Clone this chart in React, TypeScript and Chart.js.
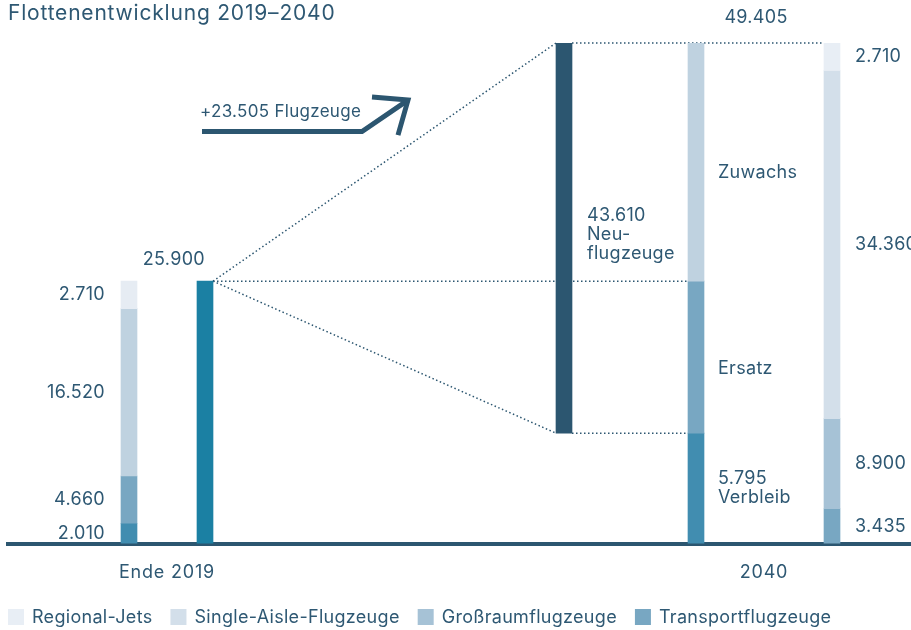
import React, { useEffect, useRef } from "react";
import { Chart, registerables } from "chart.js";

Chart.register(...registerables);

// ---------------- data ----------------
const TITLE = "Flottenentwicklung 2019–2040";
const GROUP_LABELS = ["Ende 2019", "2040"];
// order: top of the stack -> bottom of the stack
const FLEET_TYPES = ["Regional-Jets", "Single-Aisle-Flugzeuge", "Großraumflugzeuge", "Transportflugzeuge"];
const FLEET_2019 = [2710, 16520, 4660, 2010];
const FLEET_2040 = [2710, 34360, 8900, 3435];
const TOTAL_2019 = 25900;
const TOTAL_2040 = 49405;
const NEW_AIRCRAFT = 43610;
const GROWTH = 23505;
const REMAINING = 5795;
// the graphic draws the "Verbleib" part taller than to scale
const REMAINING_AS_DRAWN = 10900;
const FLOW_LABELS = ["Zuwachs", "Ersatz", "Verbleib"];
const NEW_LABEL = ["Neu-", "flugzeuge"];
const ARROW_TEXT = "Flugzeuge";

// ---------------- layout / style ----------------
const FONT = "Inter";
const SPACING = "0.3px";
const TITLE_SPACING = "0.8px";
const FS = 18;
const INK = "#2e5873";
const DARK = "#2c5670";
const TOTAL_COLOR = "#1b80a3";
const COLORS_2019 = ["#e6ecf3", "#bfd2e0", "#78a7c2", "#418db0"];
const COLORS_2040 = ["#e8eef5", "#d3dfea", "#a6c2d6", "#78a7c2"];
const FLOW_COLORS = ["#bfd2e0", "#78a7c2", "#418db0"];
const X_MAX = 90.3;
const X_2019_SPLIT = 12.1;
const X_2019_TOTAL = 19.7;
const X_NEW = 55.6;
const X_2040_FLOW = 68.8;
const X_2040_SPLIT = 82.4;
const GROUP_POS = [(X_2019_SPLIT + X_2019_TOTAL) / 2, (X_2040_FLOW + X_2040_SPLIT) / 2];
// arrow path in chart units (x units, y fleet-scale units)
const ARROW_SHAFT = [[19.4, 40660], [35.4, 40660], [40.0, 43770]];
const ARROW_HEAD = [[36.4, 44070], [40.0, 43770], [39.0, 40310]];

const fmt = (n: number) => String(n).replace(/\B(?=(\d{3})+(?!\d))/g, ".");

function stackRanges(vals: number[]): [number, number][] {
  const out: [number, number][] = new Array(vals.length);
  let acc = 0;
  for (let i = vals.length - 1; i >= 0; i--) {
    out[i] = [acc, acc + vals[i]];
    acc += vals[i];
  }
  return out;
}

export default function App() {
  const ref = useRef<HTMLCanvasElement | null>(null);

  useEffect(() => {
    const canvas = ref.current;
    if (!canvas) return;

    const r2019 = stackRanges(FLEET_2019);
    const r2040 = stackRanges(FLEET_2040);
    const flowRanges: [number, number][] = [
      [TOTAL_2019, TOTAL_2040],
      [REMAINING_AS_DRAWN, TOTAL_2019],
      [0, REMAINING_AS_DRAWN],
    ];

    const datasets: any[] = [];
    FLEET_TYPES.forEach((t, i) => {
      datasets.push({ label: t + " 2019", role: "s19", idx: i, data: [{ x: X_2019_SPLIT, y: r2019[i] }], backgroundColor: COLORS_2019[i] });
    });
    FLEET_TYPES.forEach((t, i) => {
      datasets.push({ label: t, role: "s40", idx: i, data: [{ x: X_2040_SPLIT, y: r2040[i] }], backgroundColor: COLORS_2040[i] });
    });
    datasets.push({ label: "Gesamt 2019", role: "total", data: [{ x: X_2019_TOTAL, y: [0, TOTAL_2019] }], backgroundColor: TOTAL_COLOR });
    datasets.push({ label: "Neuflugzeuge", role: "new", data: [{ x: X_NEW, y: [REMAINING_AS_DRAWN, TOTAL_2040] }], backgroundColor: DARK });
    FLOW_LABELS.forEach((t, i) => {
      datasets.push({ label: t, role: "flow", idx: i, data: [{ x: X_2040_FLOW, y: flowRanges[i] }], backgroundColor: FLOW_COLORS[i] });
    });

    const find = (chart: any, role: string, idx?: number) => {
      const di = chart.data.datasets.findIndex((d: any) => d.role === role && (idx === undefined || d.idx === idx));
      const el = chart.getDatasetMeta(di).data[0] as any;
      return el.getProps(["x", "y", "base", "width"], true);
    };

    const line = (ctx: CanvasRenderingContext2D, x1: number, y1: number, x2: number, y2: number) => {
      ctx.beginPath();
      ctx.moveTo(x1, y1);
      ctx.lineTo(x2, y2);
      ctx.stroke();
    };

    const decor = {
      id: "decor",
      beforeDraw(chart: any) {
        (chart.ctx as any).letterSpacing = TITLE_SPACING;
      },
      beforeDatasetsDraw(chart: any) {
        const ctx = chart.ctx as CanvasRenderingContext2D;
        (ctx as any).letterSpacing = SPACING;
        const tot = find(chart, "total");
        const nw = find(chart, "new");
        const zu = find(chart, "flow", 0);
        const er = find(chart, "flow", 1);
        const top = find(chart, "s40", 0);
        const h = tot.width / 2;
        ctx.save();
        ctx.strokeStyle = DARK;
        ctx.lineWidth = 1.5;
        ctx.setLineDash([1.5, 2.5]);
        line(ctx, tot.x + h, tot.y, nw.x - h, nw.y);
        line(ctx, tot.x + h, tot.y, nw.x - h, nw.base);
        line(ctx, tot.x + h, tot.y, zu.x - h, zu.base);
        line(ctx, nw.x + h, nw.y, top.x - h, nw.y);
        line(ctx, nw.x + h, nw.base, er.x - h, er.base);
        ctx.restore();
      },
      afterDraw(chart: any) {
        const ctx = chart.ctx as CanvasRenderingContext2D;
        const xs = chart.scales.x;
        const ys = chart.scales.y;
        ctx.save();
        (ctx as any).letterSpacing = SPACING;
        ctx.font = `${FS}px ${FONT}`;
        ctx.fillStyle = INK;
        ctx.textBaseline = "middle";

        // 2019 split labels
        ctx.textAlign = "right";
        FLEET_TYPES.forEach((_t, i) => {
          const b = find(chart, "s19", i);
          ctx.fillText(fmt(FLEET_2019[i]), b.x - b.width / 2 - 16, (b.y + b.base) / 2);
        });
        // 2040 split labels
        ctx.textAlign = "left";
        FLEET_TYPES.forEach((_t, i) => {
          const b = find(chart, "s40", i);
          ctx.fillText(fmt(FLEET_2040[i]), b.x + b.width / 2 + 15, (b.y + b.base) / 2);
        });
        // total 2019
        const tot = find(chart, "total");
        ctx.textAlign = "right";
        ctx.fillText(fmt(TOTAL_2019), tot.x, tot.y - 22);
        // total 2040
        const nw = find(chart, "new");
        const zu = find(chart, "flow", 0);
        const sp = find(chart, "s40", 0);
        ctx.textAlign = "center";
        ctx.fillText(fmt(TOTAL_2040), (zu.x + sp.x) / 2 - 8, nw.y - 25);
        // new aircraft
        ctx.textAlign = "left";
        const nmid = (nw.y + nw.base) / 2 - 3;
        const nLines = [fmt(NEW_AIRCRAFT), ...NEW_LABEL];
        nLines.forEach((s, i) => ctx.fillText(s, nw.x + nw.width / 2 + 15, nmid + (i - 1) * 19));
        // flow labels
        [0, 1].forEach((i) => {
          const b = find(chart, "flow", i);
          ctx.fillText(FLOW_LABELS[i], b.x + b.width / 2 + 14, (b.y + b.base) / 2 + 11);
        });
        const vb = find(chart, "flow", 2);
        const vmid = (vb.y + vb.base) / 2;
        ctx.fillText(fmt(REMAINING), vb.x + vb.width / 2 + 14, vmid - 9.5);
        ctx.fillText(FLOW_LABELS[2], vb.x + vb.width / 2 + 14, vmid + 9.5);

        // arrow
        const P = (p: number[]) => [xs.getPixelForValue(p[0]), ys.getPixelForValue(p[1])];
        ctx.strokeStyle = DARK;
        ctx.lineWidth = 5;
        ctx.lineJoin = "miter";
        ctx.lineCap = "butt";
        [ARROW_SHAFT, ARROW_HEAD].forEach((path) => {
          ctx.beginPath();
          path.forEach((p, i) => {
            const [px, py] = P(p);
            if (i === 0) ctx.moveTo(px, py);
            else ctx.lineTo(px, py);
          });
          ctx.stroke();
        });
        const [ax, ay] = P(ARROW_SHAFT[0]);
        ctx.font = `17px ${FONT}`;
        ctx.fillText("+" + fmt(GROWTH) + " " + ARROW_TEXT, ax - 2, ay - 20);
        ctx.font = `${FS}px ${FONT}`;

        // legend
        let lx = chart.chartArea.left;
        const ly = 617.5;
        chart.data.datasets.forEach((d: any) => {
          if (d.role !== "s40") return;
          ctx.fillStyle = d.backgroundColor;
          ctx.fillRect(lx, ly - 8.5, 16, 16);
          ctx.fillStyle = INK;
          ctx.textAlign = "left";
          ctx.fillText(d.label, lx + 24, ly);
          lx += 24 + ctx.measureText(d.label).width + 18;
        });
        ctx.restore();
      },
    };

    const chart = new Chart(canvas, {
      type: "bar",
      data: { datasets },
      options: {
        responsive: false,
        animation: false,
        devicePixelRatio: 1,
        layout: { padding: { left: 8, right: 0, top: 0, bottom: 28 } },
        datasets: { bar: { barThickness: 16, grouped: false, borderWidth: 0 } } as any,
        plugins: {
          legend: { display: false },
          tooltip: { enabled: false },
          title: {
            display: true,
            text: TITLE,
            align: "start",
            color: INK,
            font: { family: FONT, size: 21, weight: "normal" as any, lineHeight: 24 / 21 },
            padding: { top: 2, bottom: 17 },
          },
        },
        scales: {
          x: {
            type: "linear",
            min: 0,
            max: X_MAX,
            offset: false,
            z: 1,
            grid: { display: false, drawTicks: false },
            border: { display: true, color: DARK, width: 4 },
            afterBuildTicks: (axis: any) => {
              axis.ticks = GROUP_POS.map((v) => ({ value: v }));
            },
            ticks: {
              autoSkip: false,
              maxRotation: 0,
              padding: 19,
              color: INK,
              font: { family: FONT, size: FS, lineHeight: 20.4 / FS },
              callback: (_v: any, i: number) => GROUP_LABELS[i],
            },
          } as any,
          y: { display: false, min: 0, max: TOTAL_2040 },
        },
      },
      plugins: [decor],
    });
    return () => chart.destroy();
  }, []);

  return (
    <div style={{ position: "fixed", left: 0, top: 0, width: 911, height: 630, background: "#fff" }}>
      <canvas ref={ref} width={911} height={630} style={{ display: "block" }} />
    </div>
  );
}
